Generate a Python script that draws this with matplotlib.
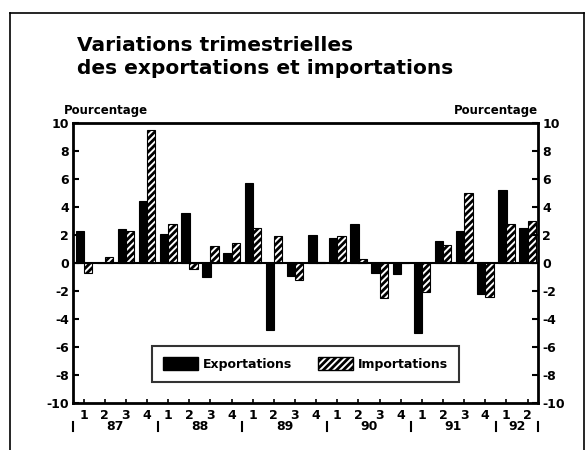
import numpy as np
import matplotlib
matplotlib.use("Agg")
from matplotlib import pyplot as plt
from matplotlib.lines import Line2D
from matplotlib.patches import Patch

plt.rcParams["font.family"] = ["DejaVu Sans"]
plt.rcParams["axes.unicode_minus"] = False
plt.rcParams["hatch.linewidth"] = 2.0

# quarterly data, 1987Q1 .. 1992Q2
years = ["87", "88", "89", "90", "91", "92"]
quarters_per_year = [4, 4, 4, 4, 4, 2]
quarter_labels = ["1", "2", "3", "4"] * 5 + ["1", "2"]
exports = [2.3, 0.0, 2.4, 4.4, 2.1, 3.6, -1.0, 0.7, 5.7, -4.8, -0.9, 2.0,
           1.8, 2.8, -0.7, -0.8, -5.0, 1.6, 2.3, -2.2, 5.2, 2.5]
imports = [-0.7, 0.4, 2.3, 9.5, 2.8, -0.4, 1.2, 1.4, 2.5, 1.9, -1.2, 0.1,
           1.9, 0.3, -2.5, 0.0, -2.1, 1.3, 5.0, -2.4, 2.8, 3.0]
yticks = list(range(-10, 11, 2))

fig = plt.figure(figsize=(5.88, 4.5), dpi=100)
ax = fig.add_axes([0.1241, 0.1044, 0.791, 0.6222])

n = len(exports)
idx = np.arange(n)
ax.bar(idx + 0.12, exports, width=0.4, align="edge", color="black",
       edgecolor="black", linewidth=0.8)
ax.bar(idx + 0.5, imports, width=0.4, align="edge", color="white",
       edgecolor="black", linewidth=0.8, hatch="/////")
ax.axhline(0, color="black", linewidth=1.5)

ax.set_xlim(0, n)
ax.set_ylim(-10, 10)
ax.set_yticks(yticks)
ax.set_yticklabels([str(t) for t in yticks], fontsize=9, fontweight="bold")
ax.tick_params(axis="y", direction="in", length=4, width=1.5,
               left=True, right=True, labelleft=True, labelright=True, pad=3)
ax.set_xticks(idx + 0.5)
ax.set_xticklabels(quarter_labels, fontsize=9, fontweight="bold")
ax.tick_params(axis="x", direction="in", length=3, width=1.2, pad=4)
for s in ax.spines.values():
    s.set_linewidth(2)

# year labels and separators below the quarter labels
trans = ax.get_xaxis_transform()
bounds = np.concatenate([[0], np.cumsum(quarters_per_year)])
for i, y in enumerate(years):
    mid = (bounds[i] + bounds[i + 1]) / 2
    ax.text(mid, -0.085, y, transform=trans, ha="center", va="center",
            fontsize=9, fontweight="bold")
for b in bounds:
    ax.add_line(Line2D([b, b], [-0.068, -0.1], transform=trans, color="black",
                       linewidth=1.5, clip_on=False))

ax.text(-0.02, 1.022, "Pourcentage", transform=ax.transAxes, ha="left",
        va="bottom", fontsize=8.5, fontweight="bold")
ax.text(1.0, 1.022, "Pourcentage", transform=ax.transAxes, ha="right",
        va="bottom", fontsize=8.5, fontweight="bold")

handles = [Patch(facecolor="black", edgecolor="black", label="Exportations"),
           Patch(facecolor="white", edgecolor="black", hatch="/////",
                 label="Importations")]
leg = ax.legend(handles=handles, loc="center", bbox_to_anchor=(0.5, 0.14),
                ncol=2, frameon=True, fancybox=False,
                handlelength=2.8, handleheight=1.2, columnspacing=2.0,
                handletextpad=0.4, borderpad=0.9,
                prop={"weight": "bold", "size": 9})
leg.get_frame().set_edgecolor("black")
leg.get_frame().set_linewidth(1.5)

fig.text(0.131, 0.92, "Variations trimestrielles\ndes exportations et importations",
         ha="left", va="top", fontsize=14.5, fontweight="bold", linespacing=1.3)

# outer frame
for xs, ys in [([0.017, 0.993], [0.971, 0.971]), ([0.017, 0.017], [0.0, 0.971]),
               ([0.993, 0.993], [0.0, 0.971])]:
    fig.add_artist(Line2D(xs, ys, transform=fig.transFigure, color="black",
                          linewidth=1.2))

fig.savefig("out.png", dpi=100)
